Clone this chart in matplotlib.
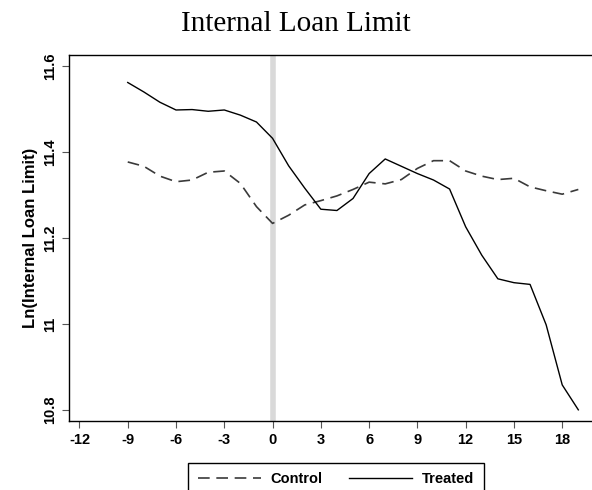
import numpy as np
import matplotlib.pyplot as plt

plt.rcParams['font.family'] = ['Liberation Sans', 'DejaVu Sans']

# months relative to event
months = list(range(-9, 20))
control = [11.377, 11.367, 11.344, 11.331, 11.335, 11.353, 11.356, 11.327, 11.273, 11.234,
           11.253, 11.277, 11.287, 11.298, 11.313, 11.330, 11.326, 11.336, 11.362, 11.380,
           11.380, 11.356, 11.344, 11.336, 11.339, 11.319, 11.310, 11.302, 11.313]
treated = [11.562, 11.540, 11.516, 11.498, 11.499, 11.495, 11.498, 11.486, 11.470, 11.432,
           11.368, 11.316, 11.267, 11.264, 11.292, 11.350, 11.384, 11.367, 11.350, 11.335,
           11.314, 11.226, 11.160, 11.105, 11.096, 11.092, 10.998, 10.858, 10.800]
xticks = list(range(-12, 19, 3))
yticks = [10.8, 11.0, 11.2, 11.4, 11.6]
ylabels = ['10.8', '11', '11.2', '11.4', '11.6']

fig = plt.figure(figsize=(5.92, 4.90), dpi=100)
ax = fig.add_axes([69 / 592, 69 / 490, 523 / 592, 366 / 490])

ax.axvline(0, color='#d9d9d9', linewidth=4, zorder=0)
ax.plot(months, control, color='#3a3a3a', linewidth=1.2, dashes=(7, 4), label='Control')
ax.plot(months, treated, color='black', linewidth=1.0, label='Treated')

ax.set_xlim(-12.65, 19.85)
ax.set_ylim(10.774, 11.626)
ax.set_xticks(xticks)
ax.set_xticklabels([str(t) for t in xticks], fontsize=10.5, fontweight='bold')
ax.set_yticks(yticks)
ax.set_yticklabels(ylabels, fontsize=10.5, fontweight='bold', rotation=90, va='center')
ax.tick_params(direction='out', length=5, width=0.8, color='#555555')
ax.spines['right'].set_visible(False)
for s in ['left', 'top', 'bottom']:
    ax.spines[s].set_linewidth(1.0)

ax.set_ylabel('Ln(Internal Loan Limit)', fontsize=12, fontweight='bold', labelpad=4)
fig.text(0.5, 0.952, 'Internal Loan Limit', ha='center', va='center',
         fontsize=21, family='Liberation Serif')

fig.legend(loc='upper center', bbox_to_anchor=(336 / 592, 27 / 490), ncol=2,
           handlelength=4.3, columnspacing=1.8, handletextpad=0.7,
           fancybox=False, edgecolor='black', framealpha=1, borderaxespad=0,
           prop={'weight': 'bold', 'size': 10.5}, borderpad=0.65)

fig.savefig('out.png', dpi=100)
